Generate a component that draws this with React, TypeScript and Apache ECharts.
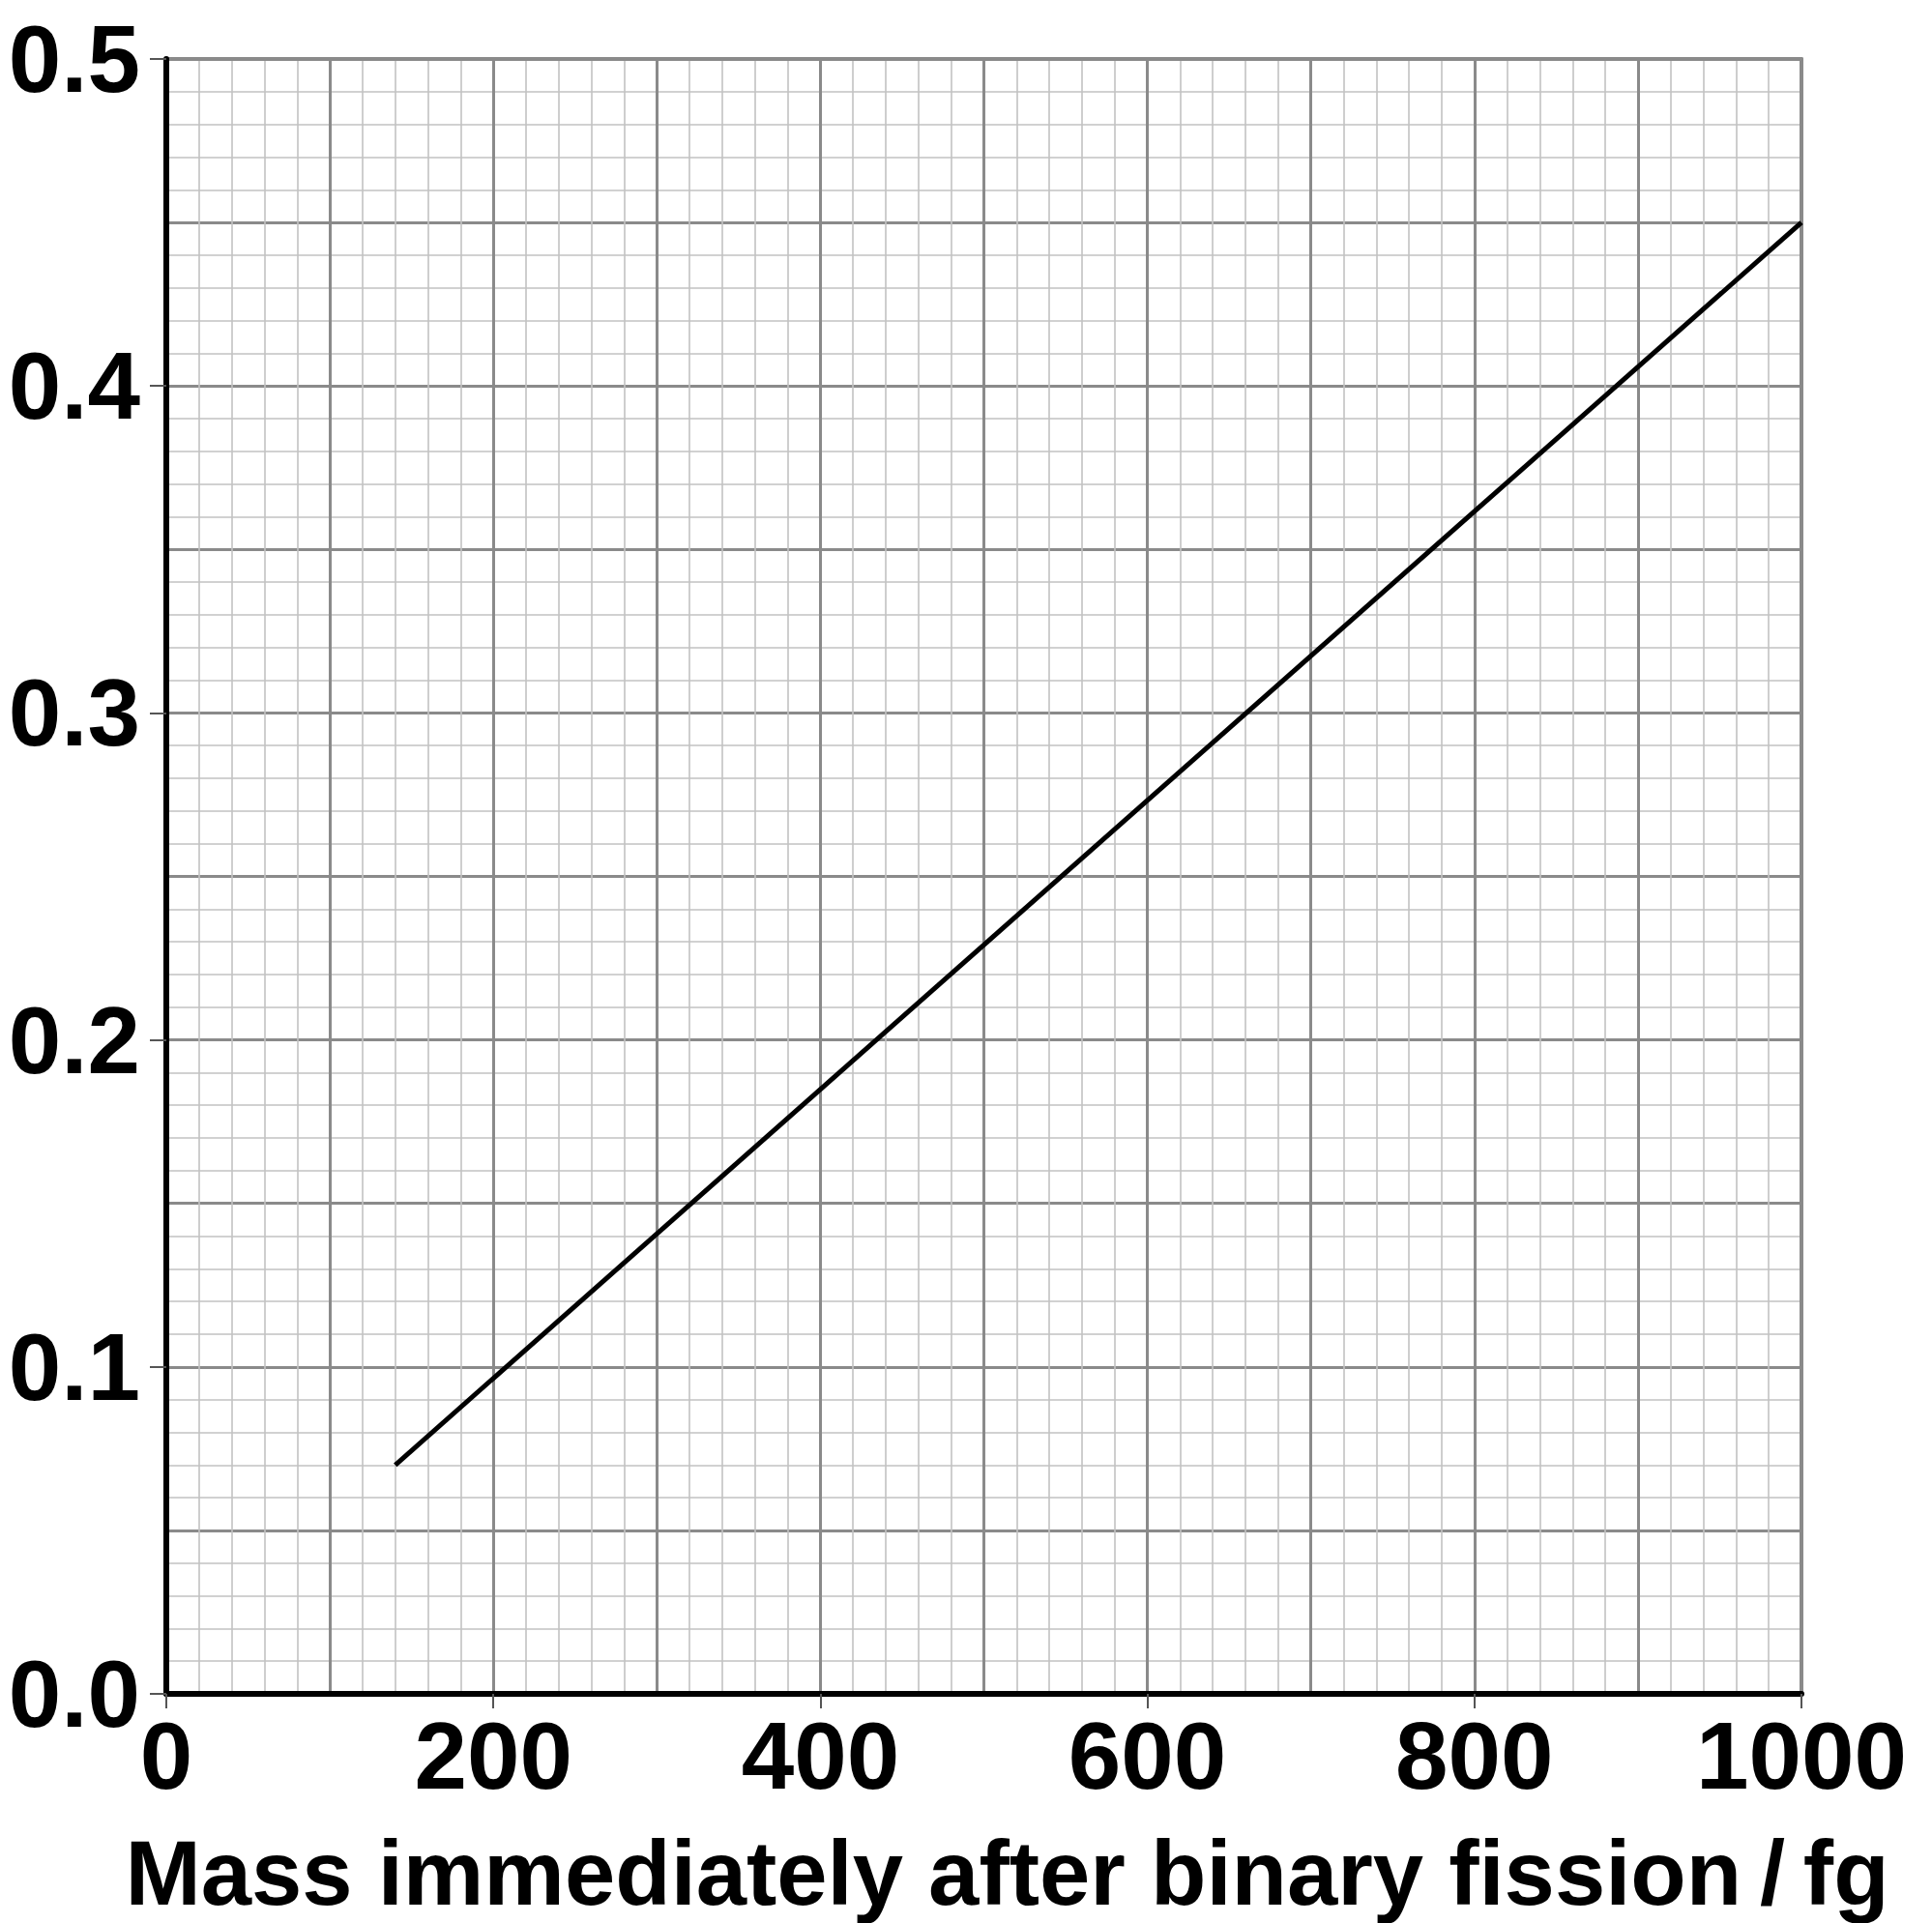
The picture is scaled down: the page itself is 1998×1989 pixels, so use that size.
import React, { useEffect, useRef } from "react";
import * as echarts from "echarts";

const lineX: number[] = [140, 1000];
const lineY: number[] = [0.07, 0.45];
const xTickValues: number[] = [0, 200, 400, 600, 800, 1000];
const yTickValues: number[] = [0.0, 0.1, 0.2, 0.3, 0.4, 0.5];
const xAxisTitle = "Mass immediately after binary fission\u2009/\u2009fg";

const FONT = '"Liberation Sans", Arial, Helvetica, sans-serif';
const MAJOR = "#8a8a8a";
const MINOR = "#c2c2c2";

export default function App() {
  const ref = useRef<HTMLDivElement>(null);
  useEffect(() => {
    document.body.style.margin = "0";
    if (!ref.current) return;
    const chart = echarts.init(ref.current, undefined, { renderer: "svg" });
    const data = lineX.map((x, i) => [x, lineY[i]]);
    chart.setOption({
      animation: false,
      backgroundColor: "#ffffff",
      grid: { left: 172, top: 61, width: 1691, height: 1693, show: false },
      xAxis: [
        {
          type: "value",
          min: xTickValues[0],
          max: xTickValues[xTickValues.length - 1],
          interval: 200,
          position: "bottom",
          axisLine: { show: true, onZero: false, lineStyle: { color: "#000", width: 6 } },
          axisTick: { show: true, length: 15, lineStyle: { color: "#555", width: 2 } },
          axisLabel: {
            show: true,
            margin: 15,
            fontFamily: FONT,
            fontWeight: "bold",
            fontSize: 98,
            color: "#000",
            formatter: (v: number) => String(v),
          },
          splitLine: { show: false },
          name: xAxisTitle,
          nameLocation: "middle",
          nameGap: 138,
          nameTextStyle: {
            fontFamily: FONT,
            fontWeight: "bold",
            fontSize: 94,
            color: "#000",
            padding: [0, 0, 0, 48],
          },
          z: 5,
        },
        {
          type: "value",
          min: 0,
          max: 1000,
          interval: 100,
          position: "top",
          axisLine: { show: true, onZero: false, lineStyle: { color: MAJOR, width: 4 } },
          axisTick: { show: false },
          axisLabel: { show: false },
          splitLine: { show: true, lineStyle: { color: MAJOR, width: 3 } },
          minorTick: { show: false, splitNumber: 5 },
          minorSplitLine: { show: true, lineStyle: { color: MINOR, width: 1.6 } },
        },
      ],
      yAxis: [
        {
          type: "value",
          min: yTickValues[0],
          max: yTickValues[yTickValues.length - 1],
          interval: 0.1,
          position: "left",
          axisLine: { show: true, onZero: false, lineStyle: { color: "#000", width: 6 } },
          axisTick: { show: true, length: 17, lineStyle: { color: "#555", width: 2 } },
          axisLabel: {
            show: true,
            margin: 27,
            fontFamily: FONT,
            fontWeight: "bold",
            fontSize: 98,
            color: "#000",
            padding: [0, 0, 30, 0],
            formatter: (v: number) => v.toFixed(1),
          },
          splitLine: { show: false },
          z: 5,
        },
        {
          type: "value",
          min: 0,
          max: 0.5,
          interval: 0.05,
          position: "right",
          axisLine: { show: true, onZero: false, lineStyle: { color: MAJOR, width: 4 } },
          axisTick: { show: false },
          axisLabel: { show: false },
          splitLine: { show: true, lineStyle: { color: MAJOR, width: 3 } },
          minorTick: { show: false, splitNumber: 5 },
          minorSplitLine: { show: true, lineStyle: { color: MINOR, width: 1.6 } },
        },
      ],
      series: [
        {
          type: "line",
          xAxisIndex: 0,
          yAxisIndex: 0,
          data,
          showSymbol: false,
          symbol: "none",
          lineStyle: { color: "#000", width: 5 },
          z: 10,
        },
      ],
    });
    return () => chart.dispose();
  }, []);
  return <div ref={ref} style={{ width: 1998, height: 1989 }} />;
}
